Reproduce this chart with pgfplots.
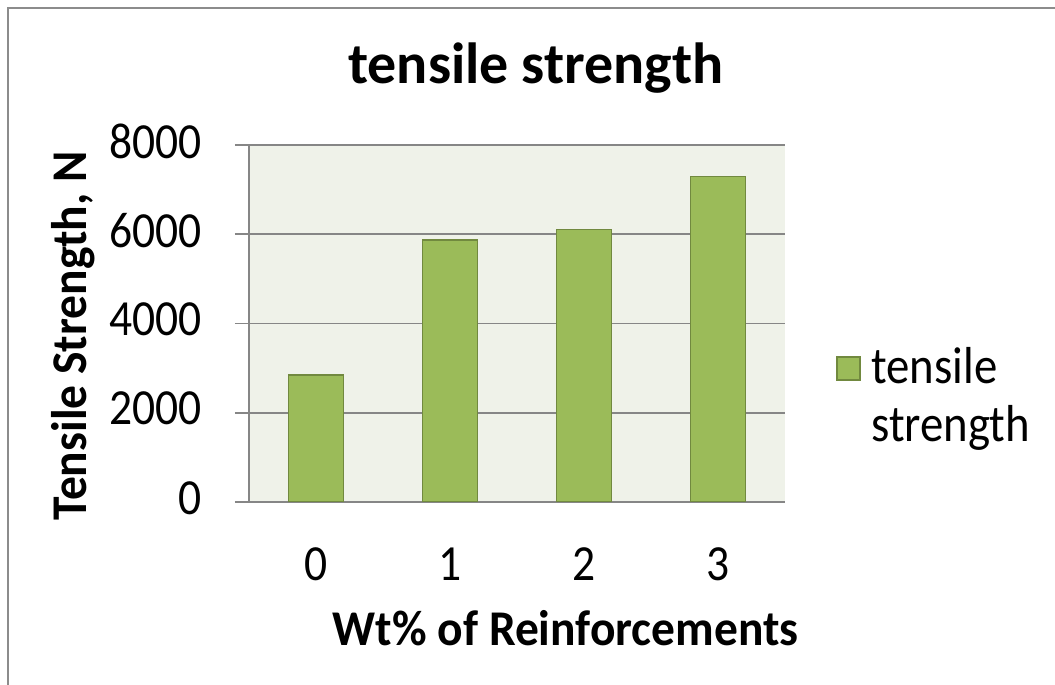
\documentclass[border=0pt]{standalone}
\usepackage{pgfplots}
\pgfplotsset{compat=1.18}
\usepackage{fontspec}
\setmainfont{Carlito}
\newfontfamily\tickfont[FakeStretch=0.9]{Carlito}
\newfontfamily\labfont[FakeStretch=0.95]{Carlito}
\definecolor{barfill}{RGB}{155,187,89}
\definecolor{baredge}{RGB}{113,137,63}
\definecolor{plotbg}{RGB}{239,242,233}
\definecolor{gridgray}{RGB}{134,134,134}
\definecolor{framegray}{RGB}{140,140,140}
\begin{document}
\begin{tikzpicture}
\path[use as bounding box] (0,0) rectangle (527.5pt,342.5pt);
\draw[framegray, line width=1pt] (4pt,-2pt) -- (4pt,338.5pt) -- (530pt,338.5pt);
\begin{axis}[
  at={(124.5pt,91.5pt)}, anchor=south west,
  scale only axis, width=268pt, height=178.5pt,
  xmin=-0.5, xmax=3.5, ymin=0, ymax=8000,
  xtick={0,1,2,3}, ytick={0,2000,4000,6000,8000},
  /pgf/number format/1000 sep={},
  /pgf/number format/assume math mode=true,
  axis x line=bottom, axis y line=left,
  axis line style={-, gridgray, line width=0.8pt},
  x tick style={draw=none},
  y tick style={gridgray, line width=0.8pt},
  tick align=outside, major tick length=7pt,
  ymajorgrids, grid style={gridgray, line width=0.8pt},
  axis background/.style={fill=plotbg},
  tick label style={font=\tickfont\fontsize{25.3}{29}\selectfont},
  xticklabel style={anchor=base, yshift=-32pt},
  yticklabel style={anchor=east, inner sep=0pt, xshift=-16.5pt, yshift=2pt},
  every axis title shift=0pt,
  title={\textbf{tensile strength}},
  title style={at={(axis description cs:0.535,1.1737)}, anchor=base, font=\fontsize{29}{33}\selectfont},
  xlabel={\textbf{Wt\% of Reinforcements}},
  xlabel style={at={(axis description cs:0.591,-0.4006)}, anchor=base, font=\labfont\fontsize{25}{29}\selectfont},
  ylabel={\textbf{Tensile Strength, N}},
  ylabel style={at={(axis description cs:-0.304,0.465)}, anchor=base, font=\labfont\fontsize{25}{29}\selectfont},
  legend style={at={(axis description cs:1.084,0.296)}, anchor=west, draw=none, fill=none,
    font=\tickfont\fontsize{26}{29}\selectfont, cells={align=left}},
  legend image code/.code={%
    \path[draw=none, fill=none] (0pt,-19.75pt) rectangle (15pt,19.75pt);
    \draw[#1] (0pt,8.25pt) rectangle (11.5pt,19.75pt);},
]
\addplot[ybar, bar width=27.5pt, fill=barfill, draw=baredge, line width=0.8pt]
  coordinates {(0,2850) (1,5870) (2,6110) (3,7290)};
\addlegendentry{tensile\\strength}
\end{axis}
\end{tikzpicture}
\end{document}
